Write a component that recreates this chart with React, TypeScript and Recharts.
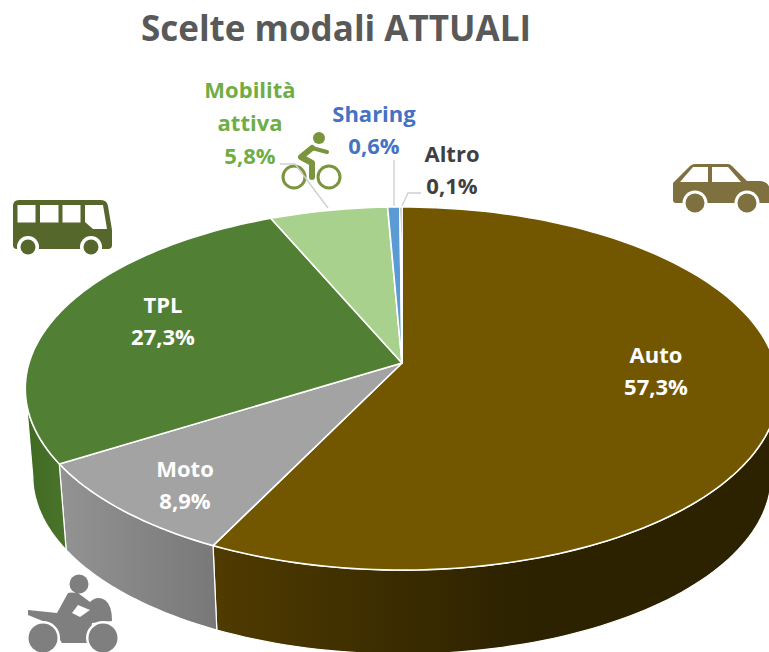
import React from 'react';
import { PieChart, Pie } from 'recharts';

const categories = ['Auto', 'Moto', 'TPL', 'Mobilità attiva', 'Sharing', 'Altro'];
const shares = [57.3, 8.9, 27.3, 5.8, 0.6, 0.1];
const topColors = ['#725700', '#a3a3a3', '#518034', '#a9d18e', '#5b9bd5', '#3f3000'];
const wallColors = [
  ['#503b00', '#2c2200'],
  ['#939393', '#787878'],
  ['#3f6a22', '#4b742b'],
  ['#7fa066', '#7fa066'],
  ['#40719d', '#40719d'],
  ['#2c2200', '#2c2200'],
];
const labelColors = ['#ffffff', '#ffffff', '#ffffff', '#70ad47', '#4472c4', '#404040'];
// text anchor (center x, first baseline) for each slice label
const labelSpots = [
  [656, 363],
  [185, 477],
  [163, 313],
  [250, 98],
  [374, 122],
  [452, 162],
];
const leaders: Record<number, string> = {
  3: '280,164 295,164 328,208',
  4: '394,160 394,206',
  5: '421,193 408,193 402,206',
};

const chartData = categories.map((name, i) => ({ name, value: shares[i], fill: topColors[i] }));

const FONT = '"Open Sans", sans-serif';
const RAD = Math.PI / 180;

// tilted, perspective look: maps a recharts angle on the circle to the drawn rim
const TILT_Y = 178 / 373;
const PERSP = 0.1405;
const DEPTH = 88;
const LOWER = 0.98;

function rim(cx: number, cy: number, r: number, deg: number, lower = false) {
  const ux = Math.cos(deg * RAD);
  const uy = -Math.sin(deg * RAD);
  const w = 1 - PERSP * uy;
  const s = lower ? LOWER : 1;
  return [cx + (s * r * ux) / w, cy + (lower ? DEPTH : 0) + (s * r * TILT_Y * uy) / w];
}

function PieSlice(props: any) {
  const { cx, cy, outerRadius, startAngle, endAngle, index, fill } = props;
  const i = index ?? categories.indexOf(props.name);
  const steps = Math.max(4, Math.ceil(Math.abs(endAngle - startAngle) / 1.5));
  const top: number[][] = [];
  for (let k = 0; k <= steps; k++) {
    top.push(rim(cx, cy, outerRadius, startAngle + ((endAngle - startAngle) * k) / steps));
  }
  const face = `M${cx},${cy} ` + top.map(p => `L${p[0]},${p[1]}`).join(' ') + ' Z';

  // the wall only shows along the front of the rim (angles run 90 down to -270)
  const limit = Math.asin(PERSP) / RAD;
  const hi = Math.min(Math.max(startAngle, endAngle), -limit);
  const lo = Math.max(Math.min(startAngle, endAngle), -180 + limit);
  let wall = null;
  if (hi > lo) {
    const n = Math.ceil((hi - lo) / 1.5);
    const upper: number[][] = [];
    const under: number[][] = [];
    for (let k = 0; k <= n; k++) {
      const deg = hi - ((hi - lo) * k) / n;
      upper.push(rim(cx, cy, outerRadius, deg));
      under.push(rim(cx, cy, outerRadius, deg, true));
    }
    const pts = upper.concat(under.reverse()).map(p => p.join(',')).join(' ');
    wall = <polygon points={pts} fill={`url(#wall${i})`} stroke="#ffffff" strokeWidth={1.2} strokeLinejoin="round" />;
  }
  return (
    <g>
      {wall}
      <path d={face} fill={fill} stroke="#ffffff" strokeWidth={1.6} strokeLinejoin="round" />
    </g>
  );
}

function SliceLabel(props: any) {
  const { index } = props;
  const [x, y] = labelSpots[index];
  const pct = shares[index].toFixed(1).replace('.', ',') + '%';
  const lines = index === 3 ? ['Mobilità', 'attiva', pct] : [categories[index], pct];
  const gap = index === 3 ? 33 : 32;
  return (
    <g>
      {leaders[index] && <polyline points={leaders[index]} fill="none" stroke="#d0d0d0" strokeWidth={1.4} />}
      {lines.map((t, k) => (
        <text key={t} x={x} y={y + k * gap} textAnchor="middle" fontFamily={FONT} fontWeight={700} fontSize={22} fill={labelColors[index]}>
          {t}
        </text>
      ))}
    </g>
  );
}

function Icons() {
  return (
    <g>
      {/* bus */}
      <path d="M13,206 Q13,200 19,200 L101,200 Q107,200 108,206 L112,230 L112,245 Q112,249 108,249 L17,249 Q13,249 13,245 Z" fill="#55672b" />
      <g fill="#ffffff">
        <rect x={17.5} y={205} width={18} height={17.5} />
        <rect x={40} y={205} width={18.5} height={17.5} />
        <rect x={62.5} y={205} width={18} height={17.5} />
        <path d="M85,205 L103,205 L107,229 L93,229 L85,222 Z" />
        <circle cx={28} cy={247} r={11} />
        <circle cx={91} cy={247} r={11} />
      </g>
      <circle cx={28} cy={247} r={7.5} fill="#55672b" />
      <circle cx={91} cy={247} r={7.5} fill="#55672b" />

      {/* car */}
      <path d="M673,183 L690,166 Q692,164 695,164 L728,164 Q730,164 732,166 L747,181 L760,181 Q769,182 770,190 L770,203 L676,203 Q673,203 673,200 Z" fill="#7f7040" />
      <g fill="#ffffff">
        <path d="M680,182 L693,167 L708,167 L708,182 Z" />
        <path d="M712,167 L728,167 L741,182 L712,182 Z" />
        <circle cx={695} cy={203} r={12.5} />
        <circle cx={747} cy={203} r={12.5} />
        <rect x={670} y={204} width={100} height={12} />
      </g>
      <circle cx={695} cy={203} r={9.5} fill="#7f7040" />
      <circle cx={747} cy={203} r={9.5} fill="#7f7040" />

      {/* bike */}
      <g stroke="#7a953d" fill="none" strokeLinecap="round" strokeLinejoin="round">
        <circle cx={294} cy={177} r={11} strokeWidth={3} />
        <circle cx={329} cy={177} r={11} strokeWidth={3} />
        <polyline points="312,148 301,157 312,163 312,177" strokeWidth={6} />
        <polyline points="312,148 327,152" strokeWidth={4} />
      </g>
      <circle cx={319} cy={138} r={6} fill="#7a953d" />

      {/* motorbike */}
      <circle cx={79} cy={584} r={9.5} fill="#7f7f7f" />
      <path d="M68,593 Q70,592 78,593 L90,602 Q97,595 105,600 Q112,605 112,621 L92,623 L90,643 L62,643 L50,624 L28,615 L28,610 L57,613 Z" fill="#7f7f7f" />
      <path d="M72,613 L78,605 L90,610 L80,617 Z" fill="#ffffff" />
      <circle cx={43} cy={638} r={17} fill="#ffffff" />
      <circle cx={103} cy={638} r={17} fill="#ffffff" />
      <circle cx={43} cy={638} r={14.5} fill="#7f7f7f" />
      <circle cx={103} cy={638} r={14.5} fill="#7f7f7f" />
    </g>
  );
}

export default function App() {
  return (
    <div style={{ position: 'absolute', left: 0, top: 0, width: 769, height: 652, background: '#ffffff' }}>
      <PieChart width={769} height={652} margin={{ top: 0, right: 0, bottom: 0, left: 0 }}>
        <defs>
          {wallColors.map((c, i) => (
            <linearGradient key={i} id={`wall${i}`} x1="0" y1="0" x2="1" y2="0">
              <stop offset="0%" stopColor={c[0]} />
              <stop offset={i === 0 ? '55%' : '100%'} stopColor={c[1]} />
            </linearGradient>
          ))}
        </defs>
        <text x={336} y={41} textAnchor="middle" fontFamily={FONT} fontWeight={700} fontSize={35} fill="#595959">
          Scelte modali ATTUALI
        </text>
        <Icons />
        <Pie
          data={chartData}
          dataKey="value"
          nameKey="name"
          cx={402}
          cy={363}
          outerRadius={373}
          startAngle={90}
          endAngle={-270}
          shape={PieSlice}
          label={SliceLabel}
          labelLine={false}
          isAnimationActive={false}
        />
      </PieChart>
    </div>
  );
}
